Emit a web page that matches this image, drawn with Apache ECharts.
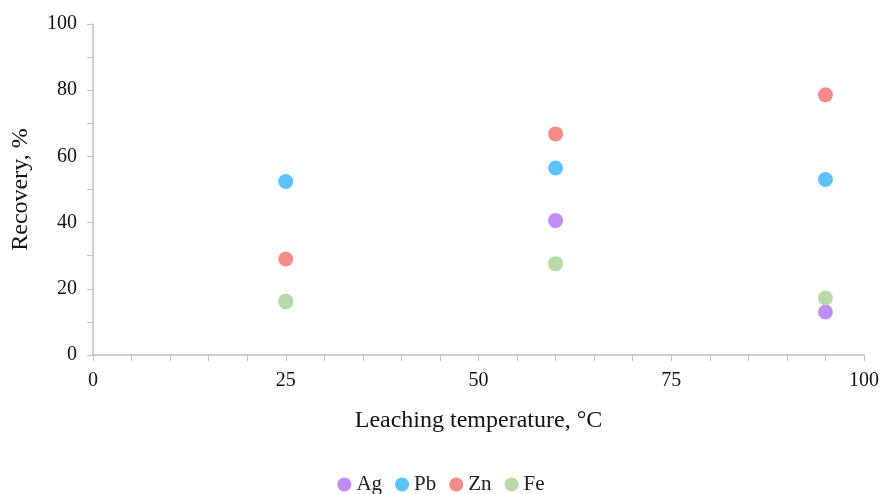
<!DOCTYPE html>
<html>
<head>
<meta charset="utf-8">
<script src="https://cdn.jsdelivr.net/npm/echarts@6/dist/echarts.min.js"></script>
<style>
  html, body { margin: 0; padding: 0; background: #fff; }
  #chart { width: 882px; height: 494px; }
</style>
</head>
<body>
<div id="chart"></div>
<script>
  // leaching temperature (°C) and recovery (%) per metal
  var temps = [25, 60, 95]
  var ag = [16.2, 40.6, 13.0]
  var pb = [52.4, 56.5, 53.0]
  var zn = [29.0, 66.8, 78.6]
  var fe = [16.2, 27.6, 17.2]

  var seriesNames = ['Ag', 'Pb', 'Zn', 'Fe']
  var seriesData = [ag, pb, zn, fe]
  var colors = ['#c08cf5', '#5bc3fa', '#f58a8a', '#b8d8a8']

  var font = 'Liberation Serif, Times New Roman, serif'
  var axisColor = '#bfbfbf'

  var chart = echarts.init(document.getElementById('chart'))
  chart.setOption({
    animation: false,
    textStyle: { fontFamily: font },
    grid: { left: 93, right: 17, top: 24, bottom: 139 },
    legend: {
      data: seriesNames,
      bottom: -3,
      left: 'center',
      padding: [2, 5],
      icon: 'circle',
      itemWidth: 14,
      itemHeight: 14,
      itemGap: 13,
      textStyle: { fontFamily: font, fontSize: 21, color: '#222' }
    },
    xAxis: {
      type: 'value',
      min: 0,
      max: 100,
      interval: 25,
      minorTick: { show: true, splitNumber: 5, length: 6, lineStyle: { color: axisColor } },
      name: 'Leaching temperature, °C',
      nameLocation: 'middle',
      nameGap: 54,
      nameTextStyle: { fontFamily: font, fontSize: 24, color: '#111' },
      axisLine: { lineStyle: { color: axisColor, width: 1.5 } },
      axisTick: { show: true, inside: false, length: 6, lineStyle: { color: axisColor } },
      axisLabel: { fontFamily: font, fontSize: 20, color: '#111', margin: 16 },
      splitLine: { show: false }
    },
    yAxis: {
      type: 'value',
      min: 0,
      max: 100,
      interval: 20,
      minorTick: { show: true, splitNumber: 2, length: 6, lineStyle: { color: axisColor } },
      name: 'Recovery, %',
      nameLocation: 'middle',
      nameGap: 60,
      nameTextStyle: { fontFamily: font, fontSize: 24, color: '#111' },
      axisLine: { show: true, lineStyle: { color: axisColor, width: 1.5 } },
      axisTick: { show: true, inside: false, length: 6, lineStyle: { color: axisColor } },
      axisLabel: { fontFamily: font, fontSize: 20, color: '#111', margin: 16 },
      splitLine: { show: false }
    },
    series: seriesNames.map(function (name, i) {
      return {
        name: name,
        type: 'scatter',
        symbolSize: 15,
        itemStyle: { color: colors[i], opacity: 1 },
        data: temps.map(function (t, j) { return [t, seriesData[i][j]] })
      }
    })
  })
</script>
</body>
</html>
